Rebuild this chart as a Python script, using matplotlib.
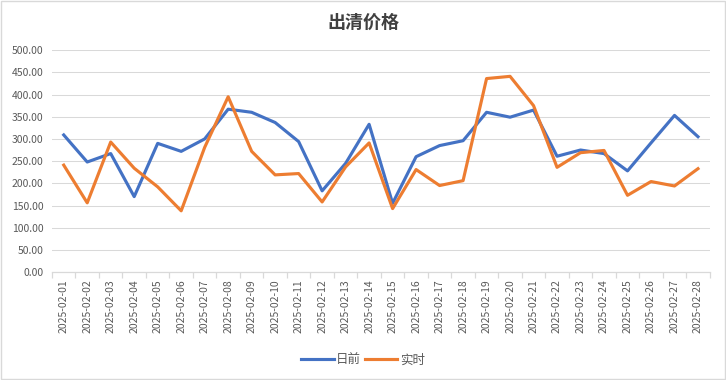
import matplotlib
matplotlib.use("Agg")
import matplotlib.pyplot as plt
from matplotlib.patches import Rectangle
from matplotlib.ticker import FuncFormatter

plt.rcParams['font.family'] = ['Noto Sans CJK SC', 'DejaVu Sans']

# ---- data ----
dates = ['2025-02-%02d' % d for d in range(1, 29)]
day_ahead = [309, 248, 267, 170, 290, 272, 300, 367, 360, 337, 294, 183, 245, 333,
             155, 260, 285, 296, 360, 349, 365, 261, 275, 267, 228, 291, 353, 305]
real_time = [241, 156, 293, 234, 192, 138, 281, 395, 272, 219, 222, 158, 237, 291,
             143, 231, 195, 206, 436, 441, 375, 236, 269, 274, 173, 204, 194, 233]
series_names = ['日前', '实时']
colors = ['#4472C4', '#ED7D31']

fig = plt.figure(figsize=(7.26, 3.8), dpi=100)
ax = fig.add_axes([0.0716, 0.284, 0.906, 0.584])

x = list(range(1, len(dates) + 1))
ax.plot(x, day_ahead, color=colors[0], lw=2.25, label=series_names[0], solid_joinstyle='round')
ax.plot(x, real_time, color=colors[1], lw=2.25, label=series_names[1], solid_joinstyle='round')

ax.set_ylim(0, 500)
ax.set_yticks(range(0, 501, 50))
ax.yaxis.set_major_formatter(FuncFormatter(lambda v, p: '%.2f' % v))
ax.set_xlim(0.5, len(dates) + 0.5)
ax.set_xticks(x)
ax.set_xticklabels(dates, rotation=90)
ax.set_xticks([i + 0.5 for i in range(0, len(dates) + 1)], minor=True)

ax.grid(axis='y', color='#D9D9D9', lw=0.75)
ax.set_axisbelow(True)
for s in ['top', 'right', 'left']:
    ax.spines[s].set_visible(False)
ax.spines['bottom'].set_color('#D9D9D9')
ax.spines['bottom'].set_linewidth(0.9)

ax.tick_params(axis='y', length=0, labelsize=7.5, labelcolor='#595959', pad=6)
ax.tick_params(axis='x', which='major', length=0, labelsize=7.5, labelcolor='#595959', pad=5)
ax.tick_params(axis='x', which='minor', length=4.5, color='#D9D9D9', width=0.9)

fig.text(0.5, 0.942, '出清价格', ha='center', va='center', fontsize=13,
         fontweight='bold', color='#404040')

fig.legend(loc='center', bbox_to_anchor=(0.5, 0.053), ncol=2, frameon=False,
           fontsize=9, handlelength=2.6, columnspacing=0.3, handletextpad=0.2,
           labelcolor='#595959')

fig.patches.append(Rectangle((0.001, 0.002), 0.997, 0.995, transform=fig.transFigure,
                             fill=False, edgecolor='#D9D9D9', lw=1))

fig.savefig('out.png', dpi=100)
